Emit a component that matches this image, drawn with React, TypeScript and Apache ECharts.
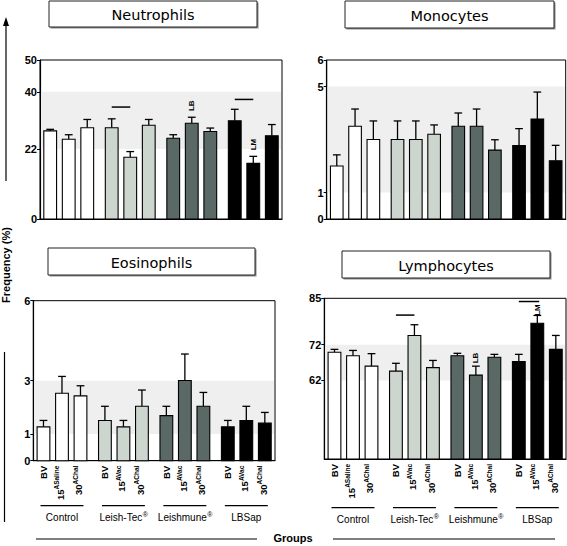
import React, { useEffect, useRef } from 'react';
import * as echarts from 'echarts';

// ---------------- data ----------------
const groupNames = ['Control', 'Leish-Tec', 'Leishmune', 'LBSap'];
const groupReg = ['', '®', '®', ''];
const barLabelMain = ['BV', '15', '30', 'BV', '15', '30', 'BV', '15', '30', 'BV', '15', '30'];
const barLabelSup = ['', 'ASaline', 'AChal', '', 'AVac', 'AChal', '', 'AVac', 'AChal', '', 'AVac', 'AChal'];
const groupColors = ['#ffffff', '#cdd5cf', '#5a6866', '#000000'];

const neutroMean = [27.7, 25.1, 28.7, 28.7, 19.4, 29.5, 25.4, 30.1, 27.5, 30.9, 17.5, 26.2];
const neutroSD = [0.5, 1.4, 2.6, 2.8, 1.8, 1.8, 1.1, 1.9, 1.1, 3.6, 2.2, 3.5];
const neutroTicks = [0, 22, 40, 50];
const neutroBand = [22, 40];
const neutroLines = [[3, 4, 35.2], [9, 10, 37.6]];
const neutroTexts: [number, number, string][] = [[7, 35.6, 'LB'], [10, 23.4, 'LM']];

const monoMean = [2.0, 3.5, 3.0, 3.0, 3.0, 3.2, 3.5, 3.5, 2.6, 2.77, 3.77, 2.2];
const monoSD = [0.42, 0.65, 0.7, 0.7, 0.7, 0.35, 0.5, 0.65, 0.39, 0.64, 1.02, 0.58];
const monoTicks = [0, 1, 5, 6];
const monoBand = [1, 5];

const eosMean = [1.27, 2.53, 2.43, 1.51, 1.27, 2.04, 1.69, 3.01, 2.04, 1.27, 1.51, 1.41];
const eosSD = [0.24, 0.63, 0.38, 0.53, 0.24, 0.61, 0.35, 0.99, 0.52, 0.24, 0.53, 0.4];
const eosTicks = [0, 1, 3, 6];
const eosBand = [1, 3];

const lymphMean = [69.9, 68.9, 66.0, 64.6, 74.6, 65.6, 68.9, 63.5, 68.5, 67.3, 78.0, 70.7];
const lymphSD = [0.8, 1.5, 3.5, 2.2, 3.0, 2.0, 0.7, 2.5, 0.8, 2.0, 2.2, 3.9];
const lymphTicks = [62, 72, 85];
const lymphBand = [62, 72];
const lymphLines = [[3, 4, 80.3], [9, 10.1, 84.1]];
const lymphTexts: [number, number, string][] = [[7, 68.3, 'LB'], [10, 81.7, 'LM']];

// ---------------- layout ----------------
const FONT = '"Liberation Sans", Arial, Helvetica, sans-serif';
const TITLE_FONT = '"DejaVu Sans", Verdana, sans-serif';
const G = 3.32;
const X_MIN = -0.55;
const X_MAX = 3 * G + 2 + 0.55;
const BAR_W = 0.69;
const CAP_W = 0.42;
const MAIN_SIZE = 9.5;
const SUP_SIZE = 6.5;
const posOf = (idx: number) => {
  const g = Math.floor(idx / 3 + 1e-9);
  return g * G + (idx - g * 3);
};

let measureCtx: CanvasRenderingContext2D | null = null;
function textWidth(s: string, font: string) {
  if (!measureCtx) measureCtx = document.createElement('canvas').getContext('2d');
  if (!measureCtx) return s.length * 4;
  measureCtx.font = font;
  return measureCtx.measureText(s).width;
}

const panels = [
  { title: 'Neutrophils', mean: neutroMean, sd: neutroSD, ticks: neutroTicks, min: 0, max: 50, band: neutroBand,
    lines: neutroLines, texts: neutroTexts, grid: [40, 60, 242, 159], box: [49, 1, 208, 26], labels: false, gl: 0, gn: 0 },
  { title: 'Monocytes', mean: monoMean, sd: monoSD, ticks: monoTicks, min: 0, max: 6, band: monoBand,
    lines: [], texts: [] as [number, number, string][], grid: [326.7, 60, 239, 159], box: [345, 1, 209, 27], labels: false, gl: 0, gn: 0 },
  { title: 'Eosinophils', mean: eosMean, sd: eosSD, ticks: eosTicks, min: 0, max: 6, band: eosBand,
    lines: [], texts: [] as [number, number, string][], grid: [33.3, 300.7, 241.7, 160], box: [48, 248, 207, 27], labels: true, gl: 45, gn: 57 },
  { title: 'Lymphocytes', mean: lymphMean, sd: lymphSD, ticks: lymphTicks, min: 40, max: 85, band: lymphBand,
    lines: lymphLines, texts: lymphTexts, grid: [324.3, 298.3, 241.7, 160.7], box: [342, 251, 208, 27], labels: true, gl: 48.7, gn: 60 },
];

function buildOption() {
  const series: any[] = [];
  const supFont = `bold ${SUP_SIZE}px "Liberation Sans", Arial, sans-serif`;
  const nameFont = `10px "Liberation Sans", Arial, sans-serif`;
  panels.forEach((p, k) => {
    series.push({
      type: 'custom', xAxisIndex: k, yAxisIndex: k, z: 1, silent: true,
      data: [[X_MIN, p.band[0], p.band[1]]],
      renderItem: (params: any, api: any) => {
        const cs = params.coordSys;
        const lo = api.coord([X_MIN, api.value(1)]);
        const hi = api.coord([X_MIN, api.value(2)]);
        return {
          type: 'rect',
          shape: { x: cs.x + 1, y: hi[1], width: cs.width - 2, height: lo[1] - hi[1] },
          style: { fill: '#efefef' },
        };
      },
    });
    series.push({
      type: 'custom', xAxisIndex: k, yAxisIndex: k, z: 2, silent: true, clip: false,
      data: p.mean.map((m, i) => [posOf(i), m, p.sd[i]]),
      renderItem: (params: any, api: any) => {
        const i = params.dataIndex;
        const x = api.value(0), m = api.value(1), s = api.value(2);
        const base = api.coord([x, p.min]);
        const top = api.coord([x, m]);
        const et = api.coord([x, m + s]);
        const w = api.size([BAR_W, 0])[0];
        const cap = api.size([CAP_W, 0])[0];
        const children: any[] = [
          { type: 'line', shape: { x1: top[0], y1: top[1], x2: et[0], y2: et[1] }, style: { stroke: '#000', lineWidth: 1.3 } },
          { type: 'line', shape: { x1: et[0] - cap / 2, y1: et[1], x2: et[0] + cap / 2, y2: et[1] }, style: { stroke: '#000', lineWidth: 1.3 } },
          { type: 'rect', shape: { x: base[0] - w / 2, y: top[1], width: w, height: base[1] - top[1] },
            style: { fill: groupColors[Math.floor(i / 3)], stroke: '#000', lineWidth: 1.1 } },
        ];
        if (p.labels) {
          const sup = barLabelSup[i];
          const supW = sup ? textWidth(sup, supFont) : 0;
          const labelKids: any[] = [];
          if (sup) {
            // local frame: +x reads upward on screen, -y points to screen left
            labelKids.push({
              type: 'text', x: 0, y: -5,
              style: { text: sup, align: 'right', verticalAlign: 'middle', fontSize: SUP_SIZE, fontWeight: 'bold', fontFamily: FONT, fill: '#000' },
            });
          }
          labelKids.push({
            type: 'text', x: -supW, y: sup ? -1.5 : 0,
            style: { text: barLabelMain[i], align: 'right', verticalAlign: 'middle', fontSize: MAIN_SIZE, fontWeight: 'bold', fontFamily: FONT, fill: '#000' },
          });
          children.push({ type: 'group', x: base[0], y: base[1] + 5, rotation: Math.PI / 2, children: labelKids });
          if (i % 3 === 1) {
            const g = Math.floor(i / 3);
            const a = api.coord([posOf(i - 1) - 0.16, p.min]);
            const b = api.coord([posOf(i + 1) + 0.16, p.min]);
            children.push({ type: 'line', shape: { x1: a[0], y1: base[1] + p.gl, x2: b[0], y2: base[1] + p.gl }, style: { stroke: '#000', lineWidth: 1.2 } });
            const nW = textWidth(groupNames[g], nameFont);
            const rW = groupReg[g] ? textWidth(groupReg[g], `7px "Liberation Sans", Arial, sans-serif`) : 0;
            const x0 = base[0] - (nW + rW) / 2;
            children.push({
              type: 'text', x: x0, y: base[1] + p.gn,
              style: { text: groupNames[g], align: 'left', verticalAlign: 'middle', fontSize: 10, fontFamily: FONT, fill: '#000' },
            });
            if (groupReg[g]) {
              children.push({
                type: 'text', x: x0 + nW + 0.5, y: base[1] + p.gn - 3,
                style: { text: groupReg[g], align: 'left', verticalAlign: 'middle', fontSize: 7, fontFamily: FONT, fill: '#000' },
              });
            }
          }
        }
        return { type: 'group', children };
      },
    });
    if (p.lines.length) {
      series.push({
        type: 'custom', xAxisIndex: k, yAxisIndex: k, z: 3, silent: true, clip: false,
        data: p.lines.map((l) => [posOf(l[0]), l[2], posOf(l[1])]),
        renderItem: (params: any, api: any) => {
          const a = api.coord([api.value(0), api.value(1)]);
          const b = api.coord([api.value(2), api.value(1)]);
          return { type: 'line', shape: { x1: a[0], y1: a[1], x2: b[0], y2: b[1] }, style: { stroke: '#000', lineWidth: 1.5 } };
        },
      });
    }
    if (p.texts.length) {
      series.push({
        type: 'custom', xAxisIndex: k, yAxisIndex: k, z: 3, silent: true, clip: false,
        data: p.texts.map((t) => [posOf(t[0]), t[1]]),
        renderItem: (params: any, api: any) => {
          const c = api.coord([api.value(0), api.value(1)]);
          return {
            type: 'text', x: c[0], y: c[1], rotation: Math.PI / 2,
            style: { text: p.texts[params.dataIndex][2], align: 'center', verticalAlign: 'middle',
              fontSize: 8, fontWeight: 'bold', fontFamily: FONT, fill: '#000' },
          };
        },
      });
    }
  });

  const graphic: any[] = [];
  panels.forEach((p) => {
    const [x, y, w, h] = p.box;
    graphic.push({ type: 'rect', shape: { x: x + 1.5, y: y + 1.5, width: w, height: h }, style: { fill: '#8a8a8a' }, silent: true });
    graphic.push({ type: 'rect', shape: { x, y, width: w, height: h }, style: { fill: '#fff', stroke: '#222', lineWidth: 1 }, silent: true });
    graphic.push({
      type: 'text', x: x + w / 2, y: y + h / 2 + 1, silent: true,
      style: { text: p.title, fontSize: 14.5, fontFamily: TITLE_FONT, fill: '#000',
        align: 'center', verticalAlign: 'middle', textAlign: 'center', textVerticalAlign: 'middle' },
    });
  });
  // y-axis title with arrow
  graphic.push({ type: 'polygon', shape: { points: [[6, 17], [3, 26], [9, 26]] }, style: { fill: '#000' }, silent: true });
  graphic.push({ type: 'line', shape: { x1: 6, y1: 24, x2: 6, y2: 181 }, style: { stroke: '#000', lineWidth: 1.2 }, silent: true });
  graphic.push({ type: 'line', shape: { x1: 4.5, y1: 352, x2: 4.5, y2: 522 }, style: { stroke: '#000', lineWidth: 1.2 }, silent: true });
  graphic.push({
    type: 'text', x: 6, y: 265, rotation: Math.PI / 2, silent: true,
    style: { text: 'Frequency (%)', fontSize: 11, fontWeight: 'bold', fontFamily: FONT, fill: '#000',
      align: 'center', verticalAlign: 'middle', textAlign: 'center', textVerticalAlign: 'middle' },
  });
  // x-axis title
  graphic.push({ type: 'line', shape: { x1: 36, y1: 539, x2: 257, y2: 539 }, style: { stroke: '#000', lineWidth: 1.2 }, silent: true });
  graphic.push({ type: 'line', shape: { x1: 333, y1: 539, x2: 555, y2: 539 }, style: { stroke: '#000', lineWidth: 1.2 }, silent: true });
  graphic.push({
    type: 'text', x: 293, y: 538, silent: true,
    style: { text: 'Groups', fontSize: 11, fontWeight: 'bold', fontFamily: FONT, fill: '#000',
      align: 'center', verticalAlign: 'middle', textAlign: 'center', textVerticalAlign: 'middle' },
  });

  return {
    animation: false,
    backgroundColor: '#ffffff',
    grid: panels.map((p) => ({
      left: p.grid[0], top: p.grid[1], width: p.grid[2], height: p.grid[3],
      show: true, borderColor: '#000', borderWidth: 1, backgroundColor: 'transparent', containLabel: false,
    })),
    xAxis: panels.map((p, k) => ({
      type: 'value', gridIndex: k, min: X_MIN, max: X_MAX,
      axisLine: { show: true, onZero: false, lineStyle: { color: '#000', width: 1.2 } },
      axisTick: { show: false }, axisLabel: { show: false }, splitLine: { show: false },
    })),
    yAxis: panels.map((p, k) => ({
      type: 'value', gridIndex: k, min: p.min, max: p.max,
      axisLine: { show: true, onZero: false, lineStyle: { color: '#000', width: 1.2 } },
      axisTick: { show: true, length: 3, customValues: p.ticks, lineStyle: { color: '#000' } },
      axisLabel: { customValues: p.ticks, color: '#000', fontSize: 11, fontWeight: 'bold', fontFamily: FONT, margin: 3 },
      splitLine: { show: false },
    })),
    series,
    graphic,
  };
}

export default function App() {
  const ref = useRef<HTMLDivElement>(null);
  useEffect(() => {
    if (!ref.current) return;
    const chart = echarts.init(ref.current, undefined, { renderer: 'svg' });
    chart.setOption(buildOption() as any);
    return () => chart.dispose();
  }, []);
  return (
    <div
      ref={ref}
      style={{ position: 'absolute', left: 0, top: 0, width: 567, height: 546, background: '#fff' }}
    />
  );
}
